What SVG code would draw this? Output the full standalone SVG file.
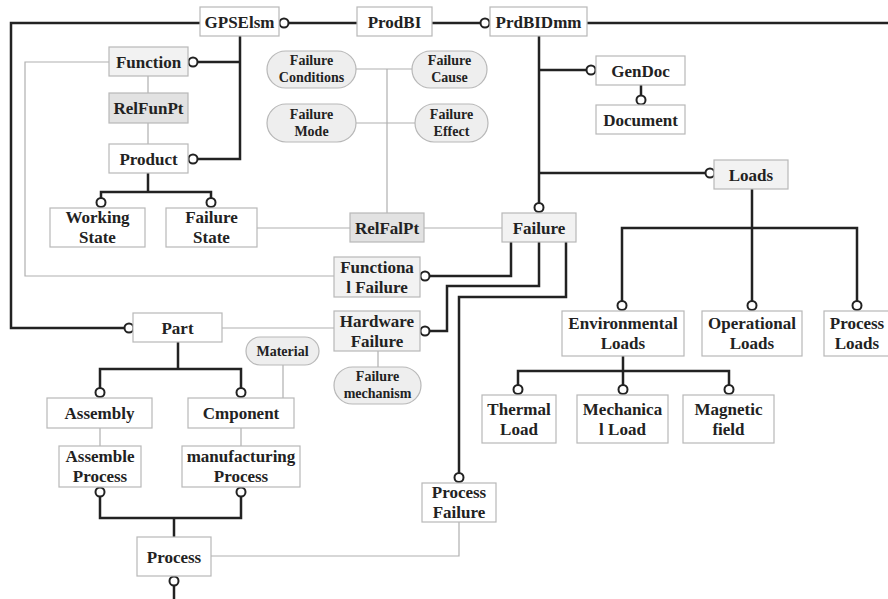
<svg xmlns="http://www.w3.org/2000/svg" width="888" height="599" viewBox="0 0 888 599">
  <style>
    .box { fill: #ffffff; stroke: #b8b8b8; stroke-width: 1.2; }
    .lite { fill: #f2f2f2; }
    .rel { fill: #e2e2e2; }
    .pill { fill: #eeeeee; stroke: #b8b8b8; stroke-width: 1.2; }
    .t { font-family: "Liberation Serif", "Times New Roman", serif; font-weight: bold; font-size: 17px; fill: #222; text-anchor: middle; }
    .s { font-size: 14px; }
    .thick { fill: none; stroke: #222; stroke-width: 2.5; stroke-linejoin: miter; }
    .thin { fill: none; stroke: #b0b0b0; stroke-width: 1.2; }
    .end { fill: #fff; stroke: #222; stroke-width: 2; }
  </style>
  <rect width="888" height="599" fill="#fff"/>

  <g id="connectors">
    <!-- weak association links -->
    <path class="thin" d="M109 62 H25 V276 H334"/>
    <path class="thin" d="M148 76 V93 M148 123 V144"/>
    <path class="thin" d="M257 228 H350 M424 228 H502"/>
    <path class="thin" d="M387 69 V213 M356 69 H412 M356 123 H415"/>
    <path class="thin" d="M222 328 H334 M378 351 V367 M283 365 V398"/>
    <path class="thin" d="M100 428 V446 M241 428 V446"/>
    <path class="thin" d="M211 556 H459 V522"/>

    <!-- strong relation links -->
    <path class="thick" d="M289 23 H357 M432 23 H480 M587 23 H888"/>
    <path class="thick" d="M200 23 H11 V328 H124"/>
    <path class="thick" d="M240 36 V159 H198 M240 62 H198"/>
    <path class="thick" d="M148 173 V192 M101 198 V192 H211 V198"/>
    <path class="thick" d="M539 36 V203 M539 70 H586 M539 173 H705"/>
    <path class="thick" d="M641 85 V95"/>
    <path class="thick" d="M752 189 V228 M622 301 V228 H857 V301 M752 228 V301"/>
    <path class="thick" d="M623 356 V371 M518 385 V371 H729 V385 M623 371 V385"/>
    <path class="thick" d="M511 242 V276 H430"/>
    <path class="thick" d="M539 242 V286 H447 V331 H430"/>
    <path class="thick" d="M566 242 V297 H459 V473"/>
    <path class="thick" d="M178 342 V369 M100 388 V369 H241 V388"/>
    <path class="thick" d="M100 497 V518 H241 V497 M174 518 V537"/>
    <path class="thick" d="M174 586 V599"/>

    <!-- optional-end markers -->
    <circle class="end" cx="284" cy="23" r="4.5"/>
    <circle class="end" cx="485" cy="23" r="4.5"/>
    <circle class="end" cx="129" cy="328" r="4.5"/>
    <circle class="end" cx="193" cy="62" r="4.5"/>
    <circle class="end" cx="193" cy="159" r="4.5"/>
    <circle class="end" cx="101" cy="202.5" r="4.5"/>
    <circle class="end" cx="211" cy="202.5" r="4.5"/>
    <circle class="end" cx="539" cy="207.5" r="4.5"/>
    <circle class="end" cx="591" cy="70" r="4.5"/>
    <circle class="end" cx="710" cy="173" r="4.5"/>
    <circle class="end" cx="641" cy="100" r="4.5"/>
    <circle class="end" cx="622" cy="305.5" r="4.5"/>
    <circle class="end" cx="752" cy="305.5" r="4.5"/>
    <circle class="end" cx="857" cy="305.5" r="4.5"/>
    <circle class="end" cx="518" cy="389.5" r="4.5"/>
    <circle class="end" cx="623" cy="389.5" r="4.5"/>
    <circle class="end" cx="729" cy="389.5" r="4.5"/>
    <circle class="end" cx="425" cy="276" r="4.5"/>
    <circle class="end" cx="425" cy="331" r="4.5"/>
    <circle class="end" cx="459" cy="477.5" r="4.5"/>
    <circle class="end" cx="100" cy="392.5" r="4.5"/>
    <circle class="end" cx="241" cy="392.5" r="4.5"/>
    <circle class="end" cx="100" cy="492" r="4.5"/>
    <circle class="end" cx="241" cy="492" r="4.5"/>
    <circle class="end" cx="174" cy="581" r="4.5"/>
  </g>

  <g id="GPSElsm"><rect class="box" x="200" y="7" width="79" height="29"/><text class="t" x="239.5" y="27.5">GPSElsm</text></g>
  <g id="ProdBI"><rect class="box" x="357" y="7" width="75" height="29"/><text class="t" x="394.5" y="27.5">ProdBI</text></g>
  <g id="PrdBIDmm"><rect class="box" x="490" y="7" width="97" height="29"/><text class="t" x="538.5" y="27.5">PrdBIDmm</text></g>

  <g id="Function"><rect class="box lite" x="109" y="47" width="79" height="29"/><text class="t" x="148.5" y="67.5">Function</text></g>
  <g id="RelFunPt"><rect class="box rel" x="109" y="93" width="79" height="30"/><text class="t" x="148.5" y="114">RelFunPt</text></g>
  <g id="Product"><rect class="box" x="109" y="144" width="79" height="29"/><text class="t" x="148.5" y="164.5">Product</text></g>
  <g id="WorkingState"><rect class="box" x="50" y="208" width="95" height="39"/><text class="t" x="97.5" y="223">Working</text><text class="t" x="97.5" y="243">State</text></g>
  <g id="FailureState"><rect class="box" x="166" y="208" width="91" height="39"/><text class="t" x="211.5" y="223">Failure</text><text class="t" x="211.5" y="243">State</text></g>

  <g id="FailureConditions"><rect class="pill" x="267" y="51" width="89" height="37" rx="18.5"/><text class="t s" x="311.5" y="65">Failure</text><text class="t s" x="311.5" y="82">Conditions</text></g>
  <g id="FailureCause"><rect class="pill" x="412" y="51" width="75" height="37" rx="18.5"/><text class="t s" x="449.5" y="65">Failure</text><text class="t s" x="449.5" y="82">Cause</text></g>
  <g id="FailureMode"><rect class="pill" x="267" y="104" width="89" height="38" rx="19"/><text class="t s" x="311.5" y="118.5">Failure</text><text class="t s" x="311.5" y="135.5">Mode</text></g>
  <g id="FailureEffect"><rect class="pill" x="415" y="104" width="73" height="38" rx="19"/><text class="t s" x="451.5" y="118.5">Failure</text><text class="t s" x="451.5" y="135.5">Effect</text></g>

  <g id="GenDoc"><rect class="box" x="596" y="56" width="89" height="29"/><text class="t" x="640.5" y="76.5">GenDoc</text></g>
  <g id="Document"><rect class="box" x="596" y="105" width="89" height="29"/><text class="t" x="640.5" y="125.5">Document</text></g>
  <g id="Loads"><rect class="box lite" x="714" y="160" width="74" height="29"/><text class="t" x="751" y="180.5">Loads</text></g>

  <g id="RelFalPt"><rect class="box rel" x="350" y="213" width="74" height="29"/><text class="t" x="387" y="233.5">RelFalPt</text></g>
  <g id="Failure"><rect class="box lite" x="502" y="213" width="74" height="29"/><text class="t" x="539" y="233.5">Failure</text></g>
  <g id="FunctionalFailure"><rect class="box lite" x="334" y="257" width="86" height="40"/><text class="t" x="377" y="272.5">Functiona</text><text class="t" x="377" y="292.5">l Failure</text></g>
  <g id="HardwareFailure"><rect class="box lite" x="334" y="311" width="86" height="40"/><text class="t" x="377" y="326.5">Hardware</text><text class="t" x="377" y="346.5">Failure</text></g>
  <g id="FailureMechanism"><rect class="pill" x="334" y="367" width="87" height="37" rx="18.5"/><text class="t s" x="377.5" y="381">Failure</text><text class="t s" x="377.5" y="398">mechanism</text></g>

  <g id="EnvironmentalLoads"><rect class="box" x="562" y="311" width="122" height="45"/><text class="t" x="623" y="329">Environmental</text><text class="t" x="623" y="349">Loads</text></g>
  <g id="OperationalLoads"><rect class="box" x="702" y="311" width="100" height="45"/><text class="t" x="752" y="329">Operational</text><text class="t" x="752" y="349">Loads</text></g>
  <g id="ProcessLoads"><rect class="box" x="824" y="311" width="70" height="45"/><text class="t" x="857" y="329">Process</text><text class="t" x="857" y="349">Loads</text></g>
  <g id="ThermalLoad"><rect class="box" x="482" y="395" width="74" height="48"/><text class="t" x="519" y="414.5">Thermal</text><text class="t" x="519" y="434.5">Load</text></g>
  <g id="MechanicalLoad"><rect class="box" x="577" y="395" width="91" height="48"/><text class="t" x="622.5" y="414.5">Mechanica</text><text class="t" x="622.5" y="434.5">l Load</text></g>
  <g id="MagneticField"><rect class="box" x="683" y="395" width="91" height="48"/><text class="t" x="728.5" y="414.5">Magnetic</text><text class="t" x="728.5" y="434.5">field</text></g>

  <g id="Part"><rect class="box" x="133" y="313" width="89" height="29"/><text class="t" x="177.5" y="333.5">Part</text></g>
  <g id="Material"><rect class="pill" x="246" y="337" width="73" height="28" rx="14"/><text class="t s" x="282.5" y="356">Material</text></g>
  <g id="Assembly"><rect class="box" x="47" y="398" width="105" height="30"/><text class="t" x="99.5" y="419">Assembly</text></g>
  <g id="Cmponent"><rect class="box" x="188" y="398" width="106" height="30"/><text class="t" x="241" y="419">Cmponent</text></g>
  <g id="AssembleProcess"><rect class="box" x="59" y="446" width="82" height="41"/><text class="t" x="100" y="462">Assemble</text><text class="t" x="100" y="482">Process</text></g>
  <g id="ManufacturingProcess"><rect class="box" x="182" y="446" width="118" height="41"/><text class="t" x="241" y="462">manufacturing</text><text class="t" x="241" y="482">Process</text></g>
  <g id="Process"><rect class="box" x="137" y="537" width="74" height="39"/><text class="t" x="174" y="562.5">Process</text></g>
  <g id="ProcessFailure"><rect class="box" x="422" y="483" width="74" height="39"/><text class="t" x="459" y="498">Process</text><text class="t" x="459" y="518">Failure</text></g>
</svg>
